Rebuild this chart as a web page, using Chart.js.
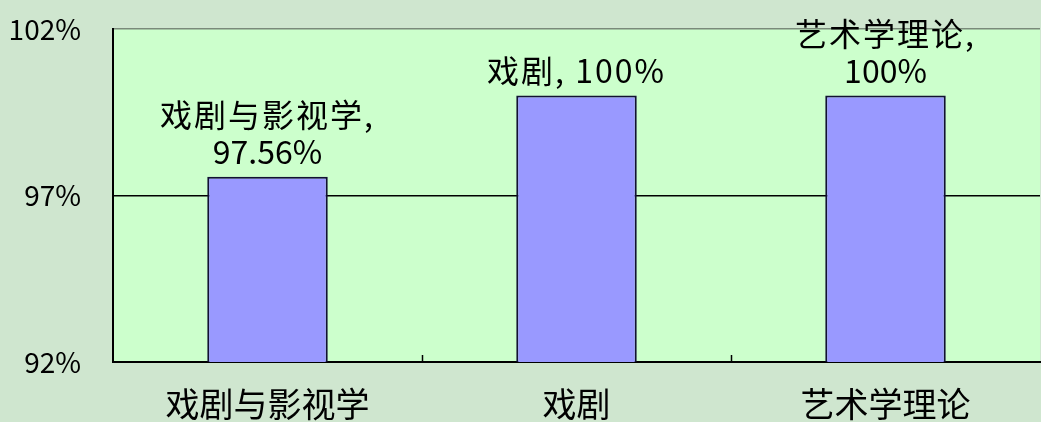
<!DOCTYPE html>
<html>
<head>
<meta charset="utf-8">
<script src="https://cdn.jsdelivr.net/npm/chart.js@4.4.1/dist/chart.umd.min.js"></script>
<style>
  html, body { margin: 0; padding: 0; background: #cfe6cf; overflow: hidden; }
  #wrap { width: 1041px; height: 422px; }
</style>
</head>
<body>
<div id="wrap"><canvas id="c" width="1041" height="422"></canvas></div>
<script>
const categories = ['戏剧与影视学', '戏剧', '艺术学理论'];
const rates = [97.56, 100, 100];
const yMin = 92;
const yMax = 102;
const yStep = 5;

const FONT = '"Noto Sans CJK SC", "Noto Sans", sans-serif';

const bgPlugin = {
  id: 'bg',
  beforeDraw(chart) {
    const { ctx, chartArea: a } = chart;
    ctx.save();
    ctx.fillStyle = '#cfe6cf';
    ctx.fillRect(0, 0, chart.width, chart.height);
    ctx.fillStyle = '#ccffcc';
    ctx.fillRect(a.left, a.top, a.right - a.left, a.bottom - a.top);
    ctx.restore();
  },
  afterDraw(chart) {
    const { ctx, chartArea: a } = chart;
    const xs = chart.scales.x;
    ctx.save();
    ctx.strokeStyle = '#000';
    ctx.lineWidth = 1.5;
    for (let i = 1; i < categories.length; i++) {
      const x = Math.round((xs.getPixelForValue(i - 1) + xs.getPixelForValue(i)) / 2) + 0.5;
      ctx.beginPath();
      ctx.moveTo(x, a.bottom);
      ctx.lineTo(x, a.bottom - 7);
      ctx.stroke();
    }
    ctx.restore();
  }
};

const labelPlugin = {
  id: 'barLabels',
  afterDatasetsDraw(chart) {
    const { ctx } = chart;
    const meta = chart.getDatasetMeta(0);
    ctx.save();
    ctx.font = '32px ' + FONT;
    ctx.fillStyle = '#000';
    ctx.textAlign = 'center';
    ctx.textBaseline = 'middle';
    meta.data.forEach((bar, i) => {
      const full = categories[i] + ', ' + rates[i] + '%';
      let lines = [full];
      ctx.letterSpacing = '2px';
      if (ctx.measureText(full).width > 250) {
        lines = [categories[i] + ',', rates[i] + '%'];
      }
      const lh = 37;
      for (let k = 0; k < lines.length; k++) {
        const y = bar.y - 25 - (lines.length - 1 - k) * lh;
        ctx.letterSpacing = /^[0-9]/.test(lines[k]) ? '0px' : '2px';
        ctx.fillText(lines[k], bar.x, y);
      }
    });
    ctx.restore();
  }
};

new Chart(document.getElementById('c'), {
  type: 'bar',
  data: {
    labels: categories,
    datasets: [{
      data: rates,
      backgroundColor: '#9999ff',
      borderColor: '#111133',
      borderWidth: 2,
      borderSkipped: false,
      barPercentage: 0.39,
      categoryPercentage: 1
    }]
  },
  options: {
    responsive: false,
    animation: false,
    devicePixelRatio: 1,
    layout: { padding: { top: 29, left: 0, right: 1, bottom: 0 } },
    plugins: { legend: { display: false }, tooltip: { enabled: false } },
    scales: {
      x: {
        grid: { display: true, drawOnChartArea: false, drawTicks: false },
        border: { color: '#000', width: 2 },
        ticks: { font: { family: FONT, size: 34 }, color: '#000', padding: 22 },
        afterFit(s) { s.height = 60; s.paddingLeft = 0; s.paddingRight = 0; }
      },
      y: {
        min: yMin,
        max: yMax,
        grid: {
          drawTicks: false,
          color: (c) => (c.tick && c.tick.value === yMax) ? '#7a8a7a' : '#000',
          lineWidth: 1.5
        },
        border: { color: '#000', width: 2 },
        ticks: {
          stepSize: yStep,
          padding: 32,
          color: '#000',
          font: { family: FONT, size: 28 },
          callback: (v) => v + '%'
        },
        afterFit(s) { s.width = 113; s.paddingTop = 0; s.paddingBottom = 0; }
      }
    }
  },
  plugins: [bgPlugin, labelPlugin]
});
</script>
</body>
</html>
